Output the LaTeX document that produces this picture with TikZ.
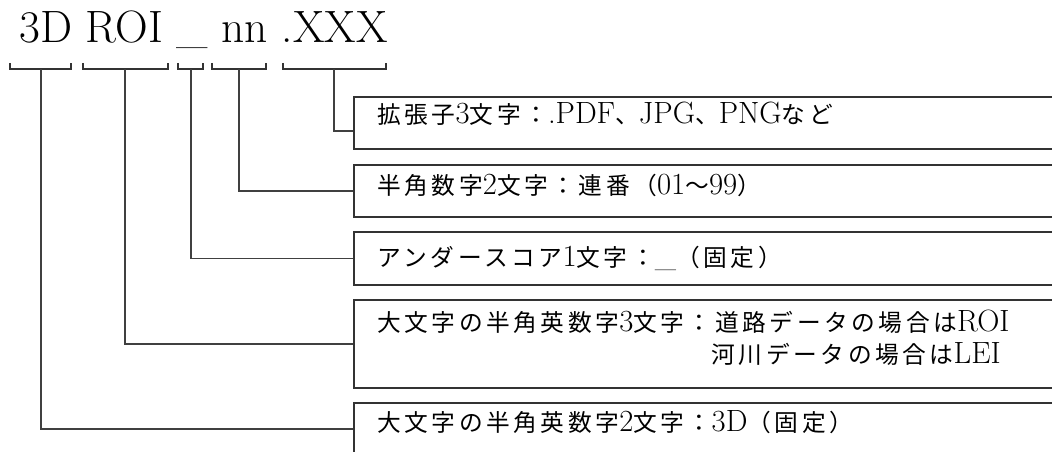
\documentclass[tikz,border=0pt]{standalone}
\usepackage{fontspec}
\newfontfamily\jp[LetterSpace=15]{Noto Sans CJK JP}
\newcommand\lat[1]{{\rmfamily\fontsize{17.5}{17.5}\selectfont #1}}
\begin{document}
\begin{tikzpicture}[x=0.02cm,y=-0.02cm,
  box/.style={draw=black!80,line width=0.8pt,minimum width=14.16cm,inner sep=0pt},
  bkt/.style={draw=black!80,line width=0.8pt},
  lead/.style={draw=black!75,line width=0.9pt},
  txt/.style={anchor=base west,inner sep=0pt,font=\fontsize{13.5}{16}\selectfont\jp}]
 \useasboundingbox (0,0) rectangle (1052,452);
 \clip (0,0) rectangle (1052,452);
 \node[anchor=base west,inner sep=0pt,font=\fontsize{25.8}{28}\selectfont] (fname) at (19,43) {3D ROI \_ nn .XXX};
 % brackets under the file name
 \draw[bkt] (10,63)--(10,69)--(71,69)--(71,63);
 \draw[bkt] (83,63)--(83,69)--(168,69)--(168,63);
 \draw[bkt] (178,63)--(178,69)--(203,69)--(203,63);
 \draw[bkt] (212,63)--(212,69)--(266,69)--(266,63);
 \draw[bkt] (283,63)--(283,69)--(386,69)--(386,63);
 \coordinate (k1) at (41,69);
 \coordinate (k2) at (125,69);
 \coordinate (k3) at (191,69);
 \coordinate (k4) at (239,69);
 \coordinate (k5) at (334,69);
 % boxes
 \node[box,minimum height=1.04cm] (b1) at (708,123) {};
 \node[box,minimum height=1.04cm] (b2) at (708,191) {};
 \node[box,minimum height=1.06cm] (b3) at (708,258.5) {};
 \node[box,minimum height=1.76cm] (b4) at (708,344) {};
 \node[box,minimum height=1.04cm] (b5) at (708,429) {};
 \node[txt] (t1) at (377,124) {拡張子\lat{3}文字：\lat{.PDF}、\lat{JPG}、\lat{PNG}など};
 \node[txt] (t2) at (377,195) {半角数字\lat{2}文字：連番（\lat{01}～\lat{99}）};
 \node[txt] (t3) at (377,267) {アンダースコア\lat{1}文字：\lat{\_}（固定）};
 \node[txt] (t4) at (377,332) {大文字の半角英数字\lat{3}文字：道路データの場合は\lat{ROI}};
 \node[txt] (t4b) at (377,364) {\phantom{大文字の半角英数字\lat{3}文字：}河川データの場合は\lat{LEI}};
 \node[txt] (t5) at (377,432) {大文字の半角英数字\lat{2}文字：\lat{3D}（固定）};
 % leaders
 \draw[lead] (k5) |- ([yshift=-0.16cm]b1.west);
 \draw[lead] (k4) |- (b2.west);
 \draw[lead] (k3) |- (b3.west);
 \draw[lead] (k2) |- (b4.west);
 \draw[lead] (k1) |- (b5.west);
\end{tikzpicture}
\end{document}
